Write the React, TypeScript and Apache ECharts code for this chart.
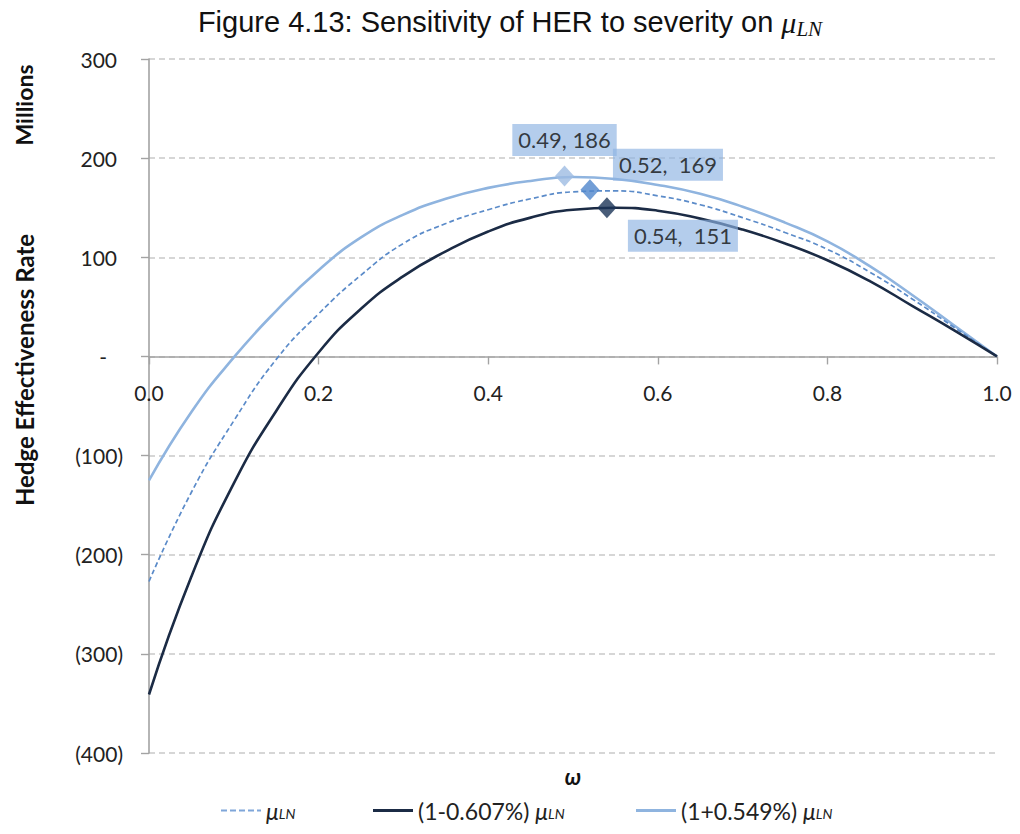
import React, { useEffect, useRef } from "react";
import * as echarts from "echarts";

// ω values (x axis)
const omega = [0, 0.05, 0.1, 0.15, 0.2, 0.25, 0.3, 0.35, 0.4, 0.45, 0.5, 0.55, 0.6, 0.65, 0.7, 0.75, 0.8, 0.85, 0.9, 0.95, 1.0];
// Hedge Effectiveness Rate (millions) for each severity scenario
const herBase = [-227, -137, -65, -3, 43, 82, 114, 134, 148, 159, 166, 167, 162, 153, 140, 125, 108, 85, 58, 29, 0];
const herMinus = [-341, -222, -128, -55, 4, 48, 81, 106, 126, 140, 148, 150, 147, 139, 128, 114, 97, 76, 51, 26, 0];
const herPlus = [-125, -56, -1, 46, 87, 120, 143, 159, 170, 177, 181, 179, 173, 164, 151, 135, 116, 91, 62, 31, 0];

// optimum points
const peakX = [0.49, 0.52, 0.54];
const peakY = [182, 168, 150];
const peakLabels = ["0.49, 186", "0.52,  169", "0.54,  151"];

const xTicks = [0, 0.2, 0.4, 0.6, 0.8, 1.0];

const seriesNames = ["base", "minus", "plus"];
const legendTexts = ["", "(1-0.607%) ", "(1+0.549%) "];

const markerColors = ["#9dbbe2", "#4f86cc", "#1c3557"];
const labelOffsets = [[0, -36], [78, -25], [76, 28]];

const FONT = "Lato, 'Open Sans', sans-serif";
const DASH_ICON = "path://M0,0h6v2h-6zM9,0h6v2h-6zM18,0h6v2h-6zM27,0h6v2h-6zM36,0h4v2h-4z";

export default function App() {
  const ref = useRef<HTMLDivElement>(null);
  useEffect(() => {
    document.body.style.margin = "0";
    const chart = echarts.init(ref.current!, null, { renderer: "svg" });
    const toPts = (ys: number[]) => omega.map((x, i) => [x, ys[i]]);
    const yFmt = (v: number) => {
      if (v === 0) return "{d|-}";
      if (v < 0) return "{n|(" + Math.abs(v) + ")}";
      return "{p|" + v + "}";
    };
    const labelRich = {
      d: { fontFamily: FONT, fontSize: 21, color: "#222", padding: [0, 16, 0, 0] },
      n: { fontFamily: FONT, fontSize: 21, color: "#222" },
      p: { fontFamily: FONT, fontSize: 21, color: "#222", padding: [0, 6, 0, 0] },
    };
    const legendRich = {
      t: { fontFamily: FONT, fontSize: 23, color: "#222" },
      mu: { fontFamily: FONT, fontSize: 23, fontStyle: "italic", color: "#222" },
      ln: { fontFamily: FONT, fontSize: 14, fontStyle: "italic", color: "#222", padding: [5, 0, 0, 0] },
    };
    const legendLefts = [216, 368, 631];
    const legendIcons = [DASH_ICON, "rect", "rect"];
    const legendIconH = [2, 3, 3];
    const option: any = {
      animation: false,
      backgroundColor: "#ffffff",
      title: {
        text: "{a|Figure 4.13: Sensitivity of HER to severity on }{mu|μ}{sub|LN}",
        left: "center",
        top: 0,
        textStyle: {
          fontWeight: "normal",
          rich: {
            a: { fontFamily: "'Liberation Sans', Arial, sans-serif", fontWeight: "normal", fontSize: 29, color: "#111" },
            mu: { fontFamily: "'Liberation Serif', serif", fontWeight: "normal", fontStyle: "italic", fontSize: 30, color: "#111" },
            sub: { fontFamily: "'Liberation Serif', serif", fontWeight: "normal", fontStyle: "italic", fontSize: 21, color: "#111", padding: [13, 0, 0, 0] },
          },
        },
      },
      grid: { left: 149, right: 23, top: 59, bottom: 81 },
      legend: seriesNames.map((n, i) => ({
        data: [n],
        left: legendLefts[i],
        top: 794,
        icon: legendIcons[i],
        itemWidth: 40,
        itemHeight: legendIconH[i],
        formatter: () => "{t|" + legendTexts[i] + "}{mu|μ}{ln|LN}",
        textStyle: { rich: legendRich },
      })),
      xAxis: {
        type: "value",
        min: 0,
        max: 1,
        interval: 0.2,
        axisLine: { onZero: true, lineStyle: { color: "#a3a3a3", width: 1.6 } },
        axisTick: { show: true, length: 8, lineStyle: { color: "#a3a3a3", width: 1.4 } },
        axisLabel: {
          margin: -371,
          fontFamily: FONT,
          fontSize: 21,
          color: "#222",
          formatter: (v: number) => (xTicks.includes(v) ? v.toFixed(1) : ""),
        },
        splitLine: { show: false },
      },
      yAxis: {
        type: "value",
        min: -400,
        max: 300,
        interval: 100,
        axisLine: { show: true, onZero: false, lineStyle: { color: "#a3a3a3", width: 1.6 } },
        axisTick: { show: true, length: 8, lineStyle: { color: "#a3a3a3", width: 1.4 } },
        axisLabel: { margin: 26, fontFamily: FONT, fontSize: 21, color: "#222", formatter: yFmt, rich: labelRich },
        splitLine: { lineStyle: { color: "#c9c9c9", type: [6, 4], width: 1.6 } },
      },
      graphic: [
        {
          type: "text",
          x: 24,
          y: 105,
          rotation: Math.PI / 2,
          style: { text: "Millions", font: "bold 23px " + FONT, fill: "#111", textAlign: "center", textVerticalAlign: "middle" },
        },
        {
          type: "text",
          x: 24,
          y: 370,
          rotation: Math.PI / 2,
          style: { text: "Hedge Effectiveness Rate", font: "bold 24px " + FONT, fill: "#111", textAlign: "center", textVerticalAlign: "middle" },
        },
        {
          type: "text",
          x: 573,
          y: 776,
          style: { text: "ω", font: "italic bold 22px " + FONT, fill: "#111", textAlign: "center", textVerticalAlign: "middle" },
        },
      ],
      series: [
        {
          name: "base",
          type: "line",
          data: toPts(herBase),
          smooth: true,
          symbol: "none",
          lineStyle: { color: "#5b8bc9", width: 1.7, type: [5, 3] },
          itemStyle: { color: "#7fa6d9" },
          z: 3,
        },
        {
          name: "minus",
          type: "line",
          data: toPts(herMinus),
          smooth: true,
          symbol: "none",
          lineStyle: { color: "#1b2b45", width: 2.6 },
          itemStyle: { color: "#1b2b45" },
          z: 3,
        },
        {
          name: "plus",
          type: "line",
          data: toPts(herPlus),
          smooth: true,
          symbol: "none",
          lineStyle: { color: "#8fb4df", width: 2.6 },
          itemStyle: { color: "#8fb4df" },
          z: 2,
        },
        {
          name: "peaks",
          type: "scatter",
          symbol: "diamond",
          symbolSize: [19, 21],
          z: 5,
          data: peakX.map((x, i) => ({
            value: [x, peakY[i]],
            itemStyle: { color: markerColors[i] },
            label: { formatter: peakLabels[i], offset: labelOffsets[i] },
          })),
          label: {
            show: true,
            position: "inside",
            fontFamily: FONT,
            fontSize: 22,
            color: "#111",
            backgroundColor: "rgba(140,178,226,0.82)",
            padding: [6, 6, 4, 6],
          },
        },
      ],
    };
    chart.setOption(option);
    return () => chart.dispose();
  }, []);
  return <div ref={ref} style={{ width: 1020, height: 834 }} />;
}
